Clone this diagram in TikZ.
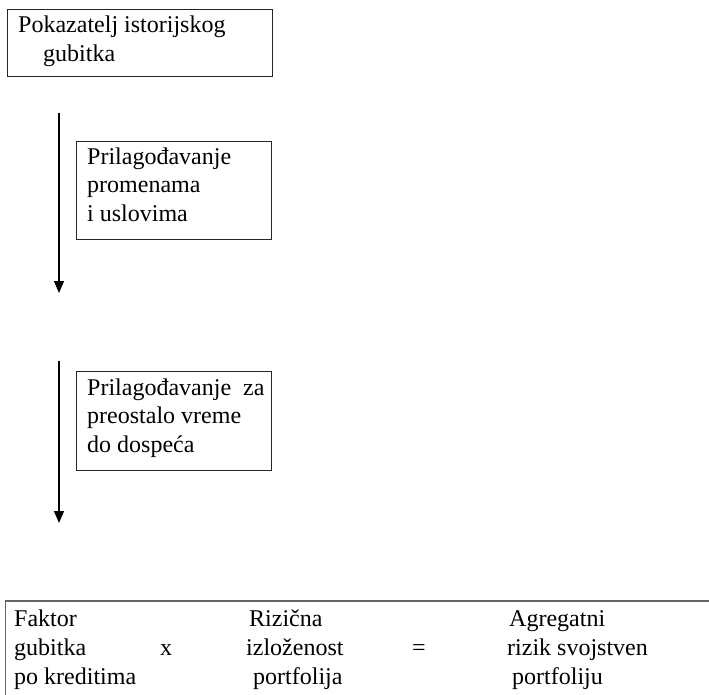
\documentclass[tikz,border=0pt]{standalone}
\usepackage{fontspec}
\setmainfont{Liberation Serif}
\usetikzlibrary{arrows.meta}
\begin{document}
\begin{tikzpicture}[x=1pt,y=-1pt,
  txt/.style={anchor=base west,inner sep=0pt,font=\fontsize{24}{29}\selectfont},
  boxline/.style={draw=black!85,line width=1pt},
  flow/.style={line width=1.2pt,-{Triangle[width=10pt,length=12pt]}}]
\useasboundingbox (0,0) rectangle (709,695);
\clip (0,0) rectangle (709,695);
% box 1
\node[boxline,rectangle,anchor=north west,minimum width=265pt,minimum height=67pt,inner sep=0pt] (b1) at (7,9) {};
\node[txt] (t11) at (18,33) {Pokazatelj istorijskog};
\node[txt] (t12) at (43,62) {gubitka};
% arrow 1
\coordinate (a1s) at (59,113);
\coordinate (a1e) at (59,293);
\draw[flow] (a1s) -- (a1e);
% box 2
\node[boxline,rectangle,anchor=north west,minimum width=195pt,minimum height=98pt,inner sep=0pt] (b2) at (76,141) {};
\node[txt] (t21) at (87,165) {Prilagođavanje};
\node[txt] (t22) at (87,193) {promenama};
\node[txt] (t23) at (87,222) {i uslovima};
% arrow 2
\coordinate (a2s) at (59,361);
\coordinate (a2e) at (59,523);
\draw[flow] (a2s) -- (a2e);
% box 3
\node[boxline,rectangle,anchor=north west,minimum width=195pt,minimum height=99pt,inner sep=0pt] (b3) at (76,370.5) {};
\node[txt] (t31) at (87,395) {Prilagođavanje~ za};
\node[txt] (t32) at (87,423) {preostalo vreme};
\node[txt] (t33) at (87,452) {do dospeća};
% bottom box
\coordinate (c1) at (5.5,720);
\coordinate (c2) at (5.5,601);
\coordinate (c3) at (720,601);
\draw[draw=black!60,line width=1.5pt] (c1) -- (c2) -- (c3);
\node[txt] (f1) at (14,626) {Faktor};
\node[txt] (f2) at (14,655) {gubitka};
\node[txt] (f3) at (14,684) {po kreditima};
\node[txt] (op1) at (160,655) {x};
\node[txt] (r1) at (249,626) {Rizična};
\node[txt] (r2) at (246,655) {izloženost};
\node[txt] (r3) at (253,684) {portfolija};
\node[txt] (op2) at (412,655) {=};
\node[txt] (g1) at (509,626) {Agregatni};
\node[txt] (g2) at (507,655) {rizik svojstven};
\node[txt] (g3) at (512,684) {portfoliju};
\end{tikzpicture}
\end{document}
